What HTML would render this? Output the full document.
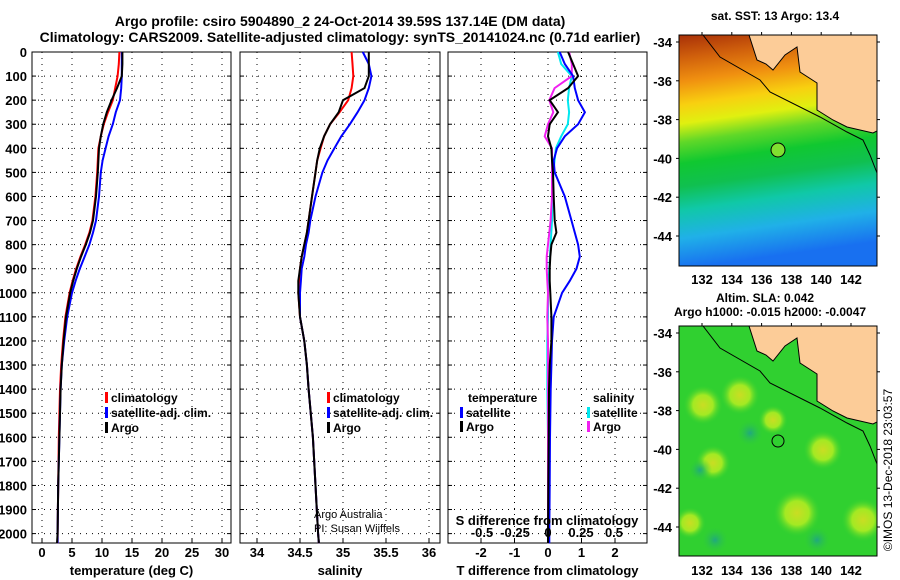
<!DOCTYPE html>
<html><head><meta charset="utf-8"><style>
body{margin:0;background:#fff;}
svg{display:block;font-family:"Liberation Sans",sans-serif;font-weight:bold;}
</style></head><body>
<svg id="c" width="900" height="580" viewBox="0 0 900 580">
<defs>
<linearGradient id="sst" x1="0" y1="0" x2="0.12" y2="1">
<stop offset="0" stop-color="#a83008"/><stop offset="0.1" stop-color="#d0600c"/><stop offset="0.2" stop-color="#f09010"/>
<stop offset="0.3" stop-color="#f8d010"/><stop offset="0.38" stop-color="#e0f010"/><stop offset="0.46" stop-color="#60d828"/>
<stop offset="0.55" stop-color="#10c830"/><stop offset="0.65" stop-color="#10c050"/><stop offset="0.75" stop-color="#10c8a8"/><stop offset="0.87" stop-color="#20b0e8"/><stop offset="1" stop-color="#1870f0"/>
</linearGradient>
<radialGradient id="yb"><stop offset="0" stop-color="#f0e020"/><stop offset="0.5" stop-color="#c0f020"/><stop offset="1" stop-color="#30d030" stop-opacity="0"/></radialGradient>
<radialGradient id="tb"><stop offset="0" stop-color="#20a880"/><stop offset="1" stop-color="#30d030" stop-opacity="0"/></radialGradient>
<clipPath id="m1"><rect x="679" y="35" width="198" height="231"/></clipPath>
<clipPath id="m2"><rect x="679" y="326" width="198" height="230"/></clipPath>
</defs>
<text x="340" y="26" text-anchor="middle" font-size="14">Argo profile: csiro 5904890_2 24-Oct-2014 39.59S 137.14E (DM data)</text>
<text x="340" y="42" text-anchor="middle" font-size="14">Climatology: CARS2009. Satellite-adjusted climatology: synTS_20141024.nc (0.71d earlier)</text>
<g id="plots"></g>
<g clip-path="url(#m1)">
<rect x="679" y="35" width="198" height="231" fill="url(#sst)"/>
<path d="M749,35 L757,60 L766,64 L773,70 L785,55 L797,47 L800,72 L817,83 L817,110 L833,120 L847,127 L873,133 L877,131 L877,35 Z" fill="#fccc98" stroke="#000" stroke-width="1"/>
<path d="M703,35 L720,57 L760,80 L770,92 L820,117 L847,132 L863,140 L870,155 L877,173" fill="none" stroke="#000" stroke-width="1"/>
</g>
<rect x="679" y="35" width="198" height="231" fill="none" stroke="#000"/>
<circle cx="778" cy="150" r="7" fill="#80e030" stroke="#000"/>
<g clip-path="url(#m2)">
<rect x="679" y="326" width="198" height="230" fill="#30d030"/>
<circle cx="740" cy="395" r="20" fill="url(#yb)" opacity="0.8"/><circle cx="703" cy="405" r="20" fill="url(#yb)" opacity="0.8"/>
<circle cx="773" cy="420" r="15" fill="url(#yb)" opacity="0.8"/><circle cx="823" cy="450" r="20" fill="url(#yb)" opacity="0.8"/>
<circle cx="797" cy="513" r="24" fill="url(#yb)" opacity="0.8"/><circle cx="863" cy="520" r="22" fill="url(#yb)" opacity="0.8"/>
<circle cx="713" cy="463" r="18" fill="url(#yb)" opacity="0.8"/><circle cx="690" cy="523" r="16" fill="url(#yb)" opacity="0.8"/>
<circle cx="750" cy="433" r="14" fill="url(#tb)"/><circle cx="715" cy="540" r="14" fill="url(#tb)"/>
<circle cx="817" cy="540" r="14" fill="url(#tb)"/><circle cx="700" cy="470" r="12" fill="url(#tb)"/>
<path d="M749,326 L757,351 L766,355 L773,361 L785,346 L797,338 L800,363 L817,374 L817,401 L833,411 L847,418 L873,424 L877,422 L877,326 Z" fill="#fccc98" stroke="#000" stroke-width="1"/>
<path d="M703,326 L720,348 L760,371 L770,383 L820,408 L847,423 L863,431 L870,446 L877,464" fill="none" stroke="#000" stroke-width="1"/>
</g>
<rect x="679" y="326" width="198" height="230" fill="none" stroke="#000"/>
<circle cx="778" cy="441" r="6" fill="none" stroke="#000"/>
<text x="775" y="20" text-anchor="middle" font-size="12">sat. SST: 13 Argo: 13.4</text>
<text x="765" y="302" text-anchor="middle" font-size="12">Altim. SLA: 0.042</text>
<text x="770" y="316" text-anchor="middle" font-size="12">Argo h1000: -0.015 h2000: -0.0047</text>
<text transform="translate(892,470) rotate(-90)" text-anchor="middle" font-size="12" font-weight="normal">©IMOS 13-Dec-2018 23:03:57</text>
<text x="314" y="518" font-size="11" font-weight="normal">Argo Australia</text>
<text x="314" y="532" font-size="11" font-weight="normal">PI: Susan Wijffels</text>
</svg>
<script>
const depth=[0,50,100,150,200,250,300,350,400,450,500,600,700,750,800,850,900,950,1000,1100,1200,1300,1400,1600,1800,2000,2040];
const tempArgo=[13.4,13.4,13.3,12.5,11.6,10.8,10.2,9.8,9.5,9.4,9.3,9.0,8.5,8.0,7.3,6.5,5.8,5.2,4.7,4.0,3.6,3.3,3.1,2.9,2.7,2.6,2.5];
const tempClim=[12.9,12.8,12.6,12.2,11.8,11.0,10.3,9.8,9.4,9.3,9.2,8.9,8.4,7.9,7.2,6.4,5.7,5.1,4.6,3.9,3.5,3.2,3.0,2.8,2.7,2.6,2.6];
const tempSat=[13.3,13.3,13.3,13.2,13.0,12.3,11.8,11.1,10.6,10.1,9.8,9.5,9.0,8.5,7.9,7.1,6.3,5.6,5.0,4.2,3.7,3.3,3.1,2.9,2.7,2.6,2.6];
const salArgo=[35.3,35.3,35.3,35.25,35.0,34.95,34.85,34.78,34.73,34.7,34.68,34.64,34.6,34.58,34.55,34.52,34.5,34.48,34.48,34.5,34.55,34.58,34.6,34.65,34.68,34.71,34.72];
const salClim=[35.1,35.11,35.12,35.1,35.06,34.96,34.85,34.78,34.74,34.7,34.68,34.64,34.6,34.58,34.55,34.52,34.5,34.49,34.48,34.5,34.55,34.58,34.6,34.65,34.68,34.71,34.72];
const salSat=[35.23,35.3,35.33,35.3,35.25,35.17,35.08,34.98,34.9,34.82,34.76,34.68,34.62,34.6,34.57,34.55,34.52,34.51,34.5,34.5,34.55,34.58,34.6,34.65,34.68,34.71,34.72];
const dTArgo=[0.6,0.75,0.9,0.6,0.05,0.3,0.05,0.0,0.1,0.12,0.15,0.17,0.2,0.25,0.1,0.07,0.05,0.05,0.07,0.1,0.1,0.05,0.03,0.02,0.01,0.0,0.0];
const dTSat=[0.35,0.5,0.75,0.8,0.9,1.1,0.9,0.5,0.27,0.17,0.2,0.5,0.7,0.8,0.9,0.95,0.85,0.65,0.42,0.17,0.12,0.1,0.08,0.06,0.05,0.04,0.04];
const dSSat=[0.075,0.1,0.18,0.16,0.15,0.16,0.15,0.1,0.06,0.05,0.04,0.035,0.03,0.025,0.02,0.015,0.01,0.005,0.0,0.0,-0.005,-0.005,-0.005,0.0,0.0,0.0,0.0];
const dSArgo=[0.16,0.18,0.18,0.05,0.01,0.04,0.0,-0.025,0.03,0.03,0.03,0.03,0.02,0.01,0.0,-0.01,-0.01,-0.005,0.0,-0.005,0.0,0.0,0.0,0.0,0.0,0.0,0.0];
const depthTicks=[0,100,200,300,400,500,600,700,800,900,1000,1100,1200,1300,1400,1500,1600,1700,1800,1900,2000];
const tempTicks=[0,5,10,15,20,25,30];
const salTicks=[34,34.5,35,35.5,36];
const dTTicks=[-2,-1,0,1,2];
const dSTicks=[-0.5,-0.25,0,0.25,0.5];
const dSTickLabels=["-0.5","-0.25","0","0.25","0.5"];

const NS="http://www.w3.org/2000/svg";
const G=document.getElementById('plots');
const TOP=52,BOT=543;
const yD=d=>TOP+d*0.2408;
function mk(t,a,p){const e=document.createElementNS(NS,t);for(const k in a)e.setAttribute(k,a[k]);(p||G).appendChild(e);return e;}
function txt(x,y,s,anchor,size){const e=mk('text',{x:x,y:y,'text-anchor':anchor||'middle','font-size':size||12});e.textContent=s;return e;}
const xT=v=>42+v*6, xS=v=>257+(v-34)*86, xdT=v=>548+v*33.5, xdS=v=>548+v*132;
const panels=[{l:32,r:231,ticks:tempTicks,f:xT,lab:'temperature (deg C)',name:'temperature'},
{l:240,r:440,ticks:salTicks,f:xS,lab:'salinity',name:'salinity'},
{l:448,r:647,ticks:dTTicks,f:xdT,lab:'T difference from climatology',name:'difference'}];
panels.forEach((p,pi)=>{
  const fr=mk('rect',{x:p.l,y:TOP,width:p.r-p.l,height:BOT-TOP,fill:'none',stroke:'#000'});
  
  
  depthTicks.forEach(d=>{const y=yD(d);
    mk('line',{x1:p.l,x2:p.r,y1:y,y2:y,stroke:'#000','stroke-dasharray':'1,5'});
    mk('line',{x1:p.l,x2:p.l+4,y1:y,y2:y,stroke:'#000'});mk('line',{x1:p.r-4,x2:p.r,y1:y,y2:y,stroke:'#000'});
    if(pi===0){const t=txt(27,y+5,String(d),'end',13);
      
      }
  });
  p.ticks.forEach(v=>{const x=p.f(v);
    mk('line',{x1:x,x2:x,y1:TOP,y2:BOT,stroke:'#000','stroke-dasharray':'1,5'});
    mk('line',{x1:x,x2:x,y1:BOT-4,y2:BOT,stroke:'#000'});
    const t=txt(x,557,String(v),'middle',13);
    
    
  });
  const xl=txt((p.l+p.r)/2,575,p.lab,'middle',13);
  
  
});
function line(vals,f,color,name){
  const pts=vals.map((v,i)=>f(v).toFixed(1)+','+yD(depth[i]).toFixed(1)).join(' ');
  const e=mk('polyline',{points:pts,fill:'none',stroke:color,'stroke-width':2});
  
  
}
line(tempClim,xT,'#f00','temp-climatology-line');line(tempSat,xT,'#00f','temp-satellite-line');line(tempArgo,xT,'#000','temp-argo-line');
line(salClim,xS,'#f00','sal-climatology-line');line(salSat,xS,'#00f','sal-satellite-line');line(salArgo,xS,'#000','sal-argo-line');
line(dSSat,xdS,'#00e8f0','sdiff-satellite-line');line(dSArgo,xdS,'#f020f0','sdiff-argo-line');
line(dTSat,xdT,'#00f','tdiff-satellite-line');line(dTArgo,xdT,'#000','tdiff-argo-line');
dSTicks.forEach((v,i)=>{const t=txt(xdS(v),537,dSTickLabels[i],'middle',13);
  
  });
const sl=txt(547,525,'S difference from climatology','middle',13);


function leg(x,y,color,label,name){
  mk('rect',{x:x,y:y-10,width:3,height:11,fill:color});
  const t=txt(x+6,y,label,'start',12);
  
  
}
leg(105,402,'#f00','climatology','legend-climatology');leg(105,417,'#00f','satellite-adj. clim.','legend-satellite');leg(105,432,'#000','Argo','legend-argo');
leg(327,402,'#f00','climatology','legend-climatology-2');leg(327,417,'#00f','satellite-adj. clim.','legend-satellite-2');leg(327,432,'#000','Argo','legend-argo-2');
const th=txt(468,402,'temperature','start',12);
const sh=txt(593,402,'salinity','start',12);
leg(460,417,'#00f','satellite','legend-t-satellite');leg(460,431,'#000','Argo','legend-t-argo');
leg(587,417,'#00e8f0','satellite','legend-s-satellite');leg(587,431,'#f020f0','Argo','legend-s-argo');
const lats=[-34,-36,-38,-40,-42,-44], lons=[132,134,136,138,140,142];
[0,291].forEach((off,mi)=>{
  lats.forEach(la=>{const y=42+(-34-la)*19.4+off;
    mk('line',{x1:676,x2:679,y1:y,y2:y,stroke:'#000'});mk('line',{x1:877,x2:880,y1:y,y2:y,stroke:'#000'});
    const t=txt(672,y+5,String(la),'end',13);});
  lons.forEach(lo=>{const x=702+(lo-132)*14.9;
    mk('line',{x1:x,x2:x,y1:off+32,y2:off+35,stroke:'#000'});
    const t=txt(x,off+284,String(lo),'middle',13);});
});
</script>
</body></html>
